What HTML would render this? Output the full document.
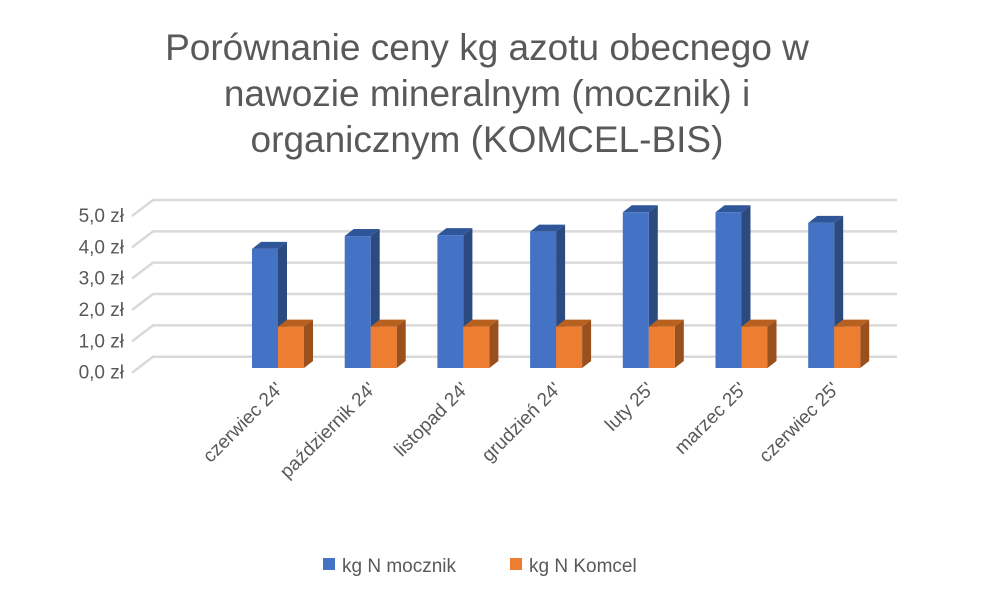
<!DOCTYPE html>
<html><head><meta charset="utf-8"><style>
body{margin:0;background:#fff;}
svg{display:block;font-family:"Liberation Sans",Arial,sans-serif;}
</style></head><body>
<svg id="chart" width="984" height="603" viewBox="0 0 984 603">
<g fill="#595959" font-size="37" text-anchor="middle">
<text x="487" y="60">Porównanie ceny kg azotu obecnego w</text>
<text x="487" y="106">nawozie mineralnym (mocznik) i</text>
<text x="487" y="152">organicznym (KOMCEL-BIS)</text>
</g>
<g id="grid"></g>
<g id="ylab"></g>
<g id="bars"></g>
<g id="xlab"></g>
<g font-size="19" fill="#595959">
<g><rect x="323" y="558" width="12" height="12" fill="#4472C4"/><text x="342" y="572">kg N mocznik</text></g>
<g><rect x="510" y="558" width="12" height="12" fill="#ED7D31"/><text x="529" y="572">kg N Komcel</text></g>
</g>
</svg>
<script>
const categories=["czerwiec 24'","październik 24'","listopad 24'","grudzień 24'","luty 25'","marzec 25'","czerwiec 25'"];
const mocznik=[3.80,4.21,4.24,4.35,4.97,4.97,4.63];
const komcel=[1.32,1.32,1.32,1.32,1.32,1.32,1.32];
const ticks=[0,1,2,3,4,5];
const tickLabels=["0,0 zł","1,0 zł","2,0 zł","3,0 zł","4,0 zł","5,0 zł"];
const NS="http://www.w3.org/2000/svg";
function mk(t,a,p){const e=document.createElementNS(NS,t);for(const k in a)e.setAttribute(k,a[k]);p.appendChild(e);return e;}
const gridBack=v=>356.7-v*31.34;
const barY=v=>368-v*31.34;
const catX=i=>278+i*92.7;
const G=document.getElementById('grid'),YL=document.getElementById('ylab'),B=document.getElementById('bars'),XL=document.getElementById('xlab');
ticks.forEach((t,i)=>{
 const y=gridBack(t);
 const p=mk('polyline',{points:`132,${y+16} 153,${y} 897,${y}`,fill:'none',stroke:'#d9d9d9','stroke-width':2.5},G);
 
 
 const tx=mk('text',{x:124,y:y+22,'text-anchor':'end','font-size':19,fill:'#595959'},YL);
 tx.textContent=tickLabels[i];
 
 
});
function bar(x,v,w,c1,c2,c3,name){
 const g=mk('g',{},B);
 
 
 const y0=368,y=barY(v),dx=9,dy=-7;
 mk('polygon',{points:`${x+w},${y} ${x+w+dx},${y+dy} ${x+w+dx},${y0+dy} ${x+w},${y0}`,fill:c3},g);
 mk('polygon',{points:`${x},${y} ${x+dx},${y+dy} ${x+w+dx},${y+dy} ${x+w},${y}`,fill:c2},g);
 mk('rect',{x:x,y:y,width:w,height:y0-y,fill:c1},g);
}
categories.forEach((c,i)=>{
 const cx=catX(i);
 bar(cx-26,mocznik[i],26,'#4472C4','#30569A','#2B4A80','bar-mocznik');
 bar(cx,komcel[i],26,'#ED7D31','#B8601F','#9A501C','bar-komcel');
 const t=mk('text',{x:cx+6,y:390,'text-anchor':'end','font-size':19,fill:'#595959',transform:`rotate(-45 ${cx+6} 390)`},XL);
 t.textContent=c;
 
 
});
</script>
</body></html>
